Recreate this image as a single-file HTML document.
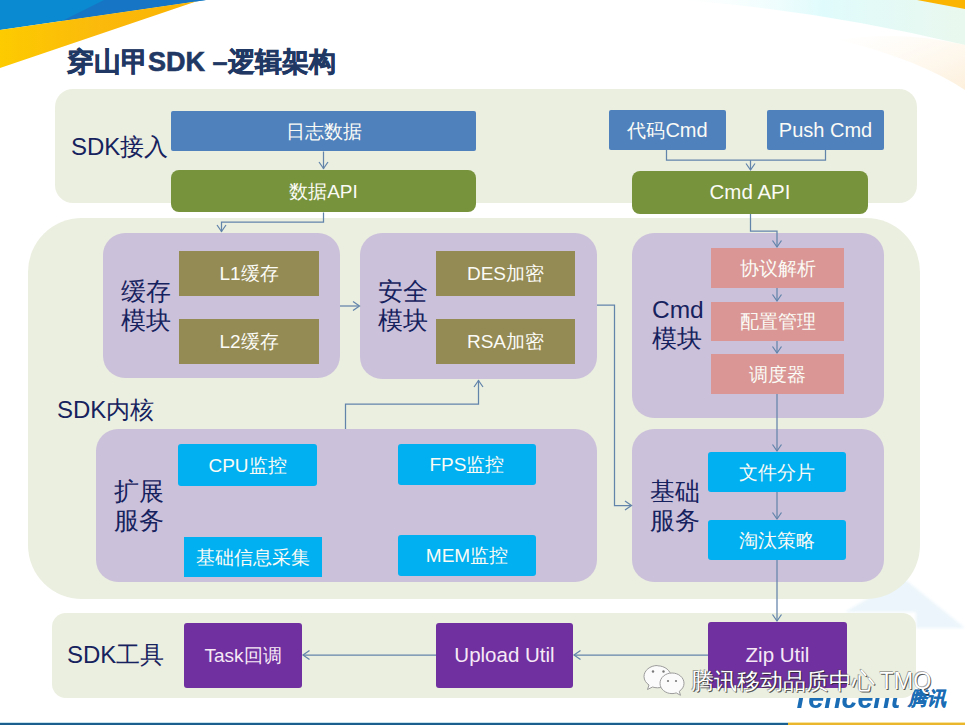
<!DOCTYPE html>
<html><head><meta charset="utf-8">
<style>
*{margin:0;padding:0;box-sizing:border-box}
html,body{width:965px;height:725px;overflow:hidden;background:#fff}
body{position:relative;font-family:"Liberation Sans",sans-serif}
.a{position:absolute}
.p{position:absolute;background:#ebefe0}
.m{position:absolute;background:#ccc1da;border-radius:22px}
.b{position:absolute;display:flex;align-items:center;justify-content:center;color:#fbfbf6;font-size:19px;white-space:nowrap;line-height:1}
.blue{background:#4f81bd;border-radius:2px}
.green{background:#77933c;border-radius:8px}
.olive{background:#948a54}
.pink{background:#d99694}
.cyan{background:#00b0f0;border-radius:3px}
.purp{background:#7030a0;border-radius:3px;color:#f6e9f6}
.lbl{position:absolute;color:#16225e;font-size:24.5px;line-height:29px;white-space:nowrap}
svg{position:absolute;left:0;top:0}
</style></head><body>
<svg width="965" height="725" viewBox="0 0 965 725">
<defs><filter id="bl"><feGaussianBlur stdDeviation="1.5"/></filter>
<linearGradient id="yg" x1="0" y1="0" x2="1" y2="0">
<stop offset="0" stop-color="#fdcb00"/><stop offset="0.5" stop-color="#fbb90c"/><stop offset="1" stop-color="#fbb400"/>
</linearGradient>
<linearGradient id="cg" x1="0" y1="0" x2="1" y2="0">
<stop offset="0" stop-color="#f4fdfd" stop-opacity="0"/><stop offset="0.5" stop-color="#e0fbfc"/><stop offset="1" stop-color="#e9f8ee"/>
</linearGradient>
<linearGradient id="pg" x1="0" y1="0" x2="1" y2="1">
<stop offset="0" stop-color="#fff8ec" stop-opacity="0"/><stop offset="1" stop-color="#fdf0dc"/>
</linearGradient>
</defs>
<path d="M0 0 L206 0 L0 30 Z" fill="#0a8bd1"/>
<path d="M62 21 L104 0 L206 0 Z" fill="#1675c4"/>
<path d="M0 30 L206 0 L196 1.5 L0 68 Z" fill="url(#yg)"/>
<path d="M680 0 L965 0 L965 45 Q820 10 680 0 Z" fill="url(#cg)"/>
<path d="M840 40 Q920 60 965 90 L965 45 Q900 30 840 40 Z" fill="url(#pg)"/>
<path d="M917 0 L965 0 L965 9 Z" fill="#fbb400"/>
<path d="M845 612 L903 578 L965 628 L916 628 L916 612 Z" fill="#ebf5fb" filter="url(#bl)"/>
</svg>

<div class="a" style="left:67px;top:46px;font-size:27px;font-weight:900;color:#1f3864;-webkit-text-stroke:0.6px #1f3864;line-height:32px;white-space:nowrap">穿山甲SDK –逻辑架构</div>

<div class="a" style="left:780px;top:697px;width:125px;height:12px;overflow:hidden"><div class="a" style="left:12px;top:-14px;font-size:30px;font-weight:bold;font-style:italic;color:#1a6db4;line-height:30px;white-space:nowrap;transform:scaleX(0.95);transform-origin:0 0">Tencent</div></div>
<div class="a" style="left:908px;top:688px;font-size:19px;font-weight:bold;font-style:italic;color:#1a6db4;-webkit-text-stroke:0.2px #1a6db4;line-height:22px;white-space:nowrap">腾讯</div>
<!-- panels -->
<div class="p" style="left:55px;top:89px;width:862px;height:114px;border-radius:18px"></div>
<div class="p" style="left:28px;top:218px;width:892px;height:381px;border-radius:54px"></div>
<div class="p" style="left:52px;top:613px;width:864px;height:85px;border-radius:14px"></div>

<!-- purple modules -->
<div class="m" style="left:103px;top:233px;width:237px;height:145px"></div>
<div class="m" style="left:360px;top:233px;width:237px;height:146px"></div>
<div class="m" style="left:632px;top:233px;width:252px;height:185px;border-radius:22px"></div>
<div class="m" style="left:96px;top:429px;width:501px;height:153px;border-radius:22px"></div>
<div class="m" style="left:632px;top:429px;width:252px;height:153px;border-radius:22px"></div>

<!-- labels -->
<div class="lbl" style="left:71px;top:132px;font-size:24px">SDK接入</div>
<div class="lbl" style="left:121px;top:276.5px">缓存<br>模块</div>
<div class="lbl" style="left:378px;top:276.5px">安全<br>模块</div>
<div class="lbl" style="left:652px;top:295px">Cmd<br>模块</div>
<div class="lbl" style="left:57px;top:395px;font-size:24px">SDK内核</div>
<div class="lbl" style="left:114px;top:477px">扩展<br>服务</div>
<div class="lbl" style="left:650px;top:477px">基础<br>服务</div>
<div class="lbl" style="left:67px;top:640px;font-size:24px">SDK工具</div>

<!-- boxes -->
<div class="b blue" style="left:171px;top:111px;width:305px;height:40px">日志数据</div>
<div class="b green" style="left:171px;top:170px;width:305px;height:42px">数据API</div>
<div class="b blue" style="left:609px;top:110px;width:117px;height:40px">代码<span style="font-size:20px">Cmd</span></div>
<div class="b blue" style="left:767px;top:110px;width:117px;height:40px;font-size:20px">Push Cmd</div>
<div class="b green" style="left:632px;top:171px;width:236px;height:43px;font-size:20.5px">Cmd API</div>

<div class="b olive" style="left:179px;top:251px;width:140px;height:45px">L1缓存</div>
<div class="b olive" style="left:179px;top:319px;width:140px;height:45px">L2缓存</div>
<div class="b olive" style="left:436px;top:251px;width:139px;height:45px">DES加密</div>
<div class="b olive" style="left:436px;top:319px;width:139px;height:45px">RSA加密</div>

<div class="b pink" style="left:711px;top:248px;width:133px;height:40px">协议解析</div>
<div class="b pink" style="left:711px;top:302px;width:133px;height:39px">配置管理</div>
<div class="b pink" style="left:711px;top:354px;width:133px;height:40px">调度器</div>

<div class="b cyan" style="left:178px;top:444px;width:139px;height:42px">CPU监控</div>
<div class="b cyan" style="left:398px;top:444px;width:138px;height:41px">FPS监控</div>
<div class="b cyan" style="left:184px;top:537px;width:138px;height:40px;border-radius:0">基础信息采集</div>
<div class="b cyan" style="left:398px;top:535px;width:138px;height:41px">MEM监控</div>
<div class="b cyan" style="left:708px;top:452px;width:138px;height:40px">文件分片</div>
<div class="b cyan" style="left:708px;top:520px;width:138px;height:40px">淘汰策略</div>

<div class="b purp" style="left:184px;top:623px;width:118px;height:65px">Task回调</div>
<div class="b purp" style="left:436px;top:623px;width:137px;height:65px;font-size:20.5px">Upload Util</div>
<div class="b purp" style="left:708px;top:622px;width:139px;height:66px;font-size:20.5px">Zip Util</div>

<!-- connectors -->
<svg width="965" height="725" viewBox="0 0 965 725" fill="none" stroke="#6284aa" stroke-width="1.25">
<path d="M323.5 151.5V169"/><path d="M319 162l4.5 6.5l4.5-6.5"/>
<path d="M323.5 212.5V222H221.5V232"/><path d="M217 225l4.5 6.5l4.5-6.5"/>
<path d="M666.5 150V160H825.5V150"/><path d="M750.5 160V170"/><path d="M746 163.5l4.5 6.5l4.5-6.5"/>
<path d="M750.5 214V231H777V247"/><path d="M772.5 240.5l4.5 6.5l4.5-6.5"/>
<path d="M340 306H359"/><path d="M353 301.5l6.5 4.5l-6.5 4.5"/>
<path d="M597 305H614.5V505.5H631"/><path d="M625 501l6.5 4.5l-6.5 4.5"/>
<path d="M345.5 429V404H478.5V380"/><path d="M474 387l4.5-6.5l4.5 6.5"/>
<path d="M777 288V301"/><path d="M772.5 294.5l4.5 6.5l4.5-6.5"/>
<path d="M777 341V353"/><path d="M772.5 346.5l4.5 6.5l4.5-6.5"/>
<path d="M777 394V451"/><path d="M772.5 444.5l4.5 6.5l4.5-6.5"/>
<path d="M777 492V519"/><path d="M772.5 512.5l4.5 6.5l4.5-6.5"/>
<path d="M777 560V621"/><path d="M772.5 614.5l4.5 6.5l4.5-6.5"/>
<path d="M708 655H574"/><path d="M580.5 650.5l-6.5 4.5l6.5 4.5"/>
<path d="M436 655H303"/><path d="M309.5 650.5l-6.5 4.5l6.5 4.5"/>
</svg>

<!-- watermark -->
<svg width="965" height="725" viewBox="0 0 965 725">
<g stroke="#9c9c9c" stroke-width="1" fill="#fbfbfb">
<path d="M657.5 665.5c-7.5 0 -13.5 5 -13.5 11c0 3.5 2 6.5 5 8.5l-1.5 4.5l5 -2.5c1.6 .5 3.3 .8 5 .8c7.5 0 13.5 -5 13.5 -11s-6 -11 -13.5 -11z"/>
<path d="M672 673c-6.6 0 -12 4.6 -12 10.3s5.4 10.3 12 10.3c1.5 0 2.9 -.2 4.2 -.7l4.3 2.4l-1.2 -4c2.9 -1.9 4.7 -4.8 4.7 -8c0 -5.7 -5.4 -10.3 -12 -10.3z"/>
</g>
<g fill="#7a7a7a"><circle cx="653" cy="671.5" r="1.2"/><circle cx="663.5" cy="671.5" r="1.2"/><circle cx="668" cy="681" r="1.1"/><circle cx="676" cy="681" r="1.1"/></g>
</svg>
<div class="a" style="left:691px;top:667.5px;font-size:23.3px;color:#fff;line-height:26px;white-space:nowrap;text-shadow:1px 1px 0 rgba(40,40,40,.75),-0.6px -0.6px 0 rgba(80,80,80,.45),0 0 1px rgba(0,0,0,.4)">腾讯移动品质中心<span style="margin-left:4.5px">TMQ</span></div>
<!-- bottom bar -->
<div class="a" style="left:0;top:722px;width:788px;height:3px;background:linear-gradient(#c6e2ec 0,#c6e2ec 33%,#1a5f8d 34%)"></div>
<div class="a" style="left:788px;top:722px;width:177px;height:3px;background:linear-gradient(#f7e4a0 0,#f7e4a0 33%,#eab62c 34%)"></div>

</body></html>
